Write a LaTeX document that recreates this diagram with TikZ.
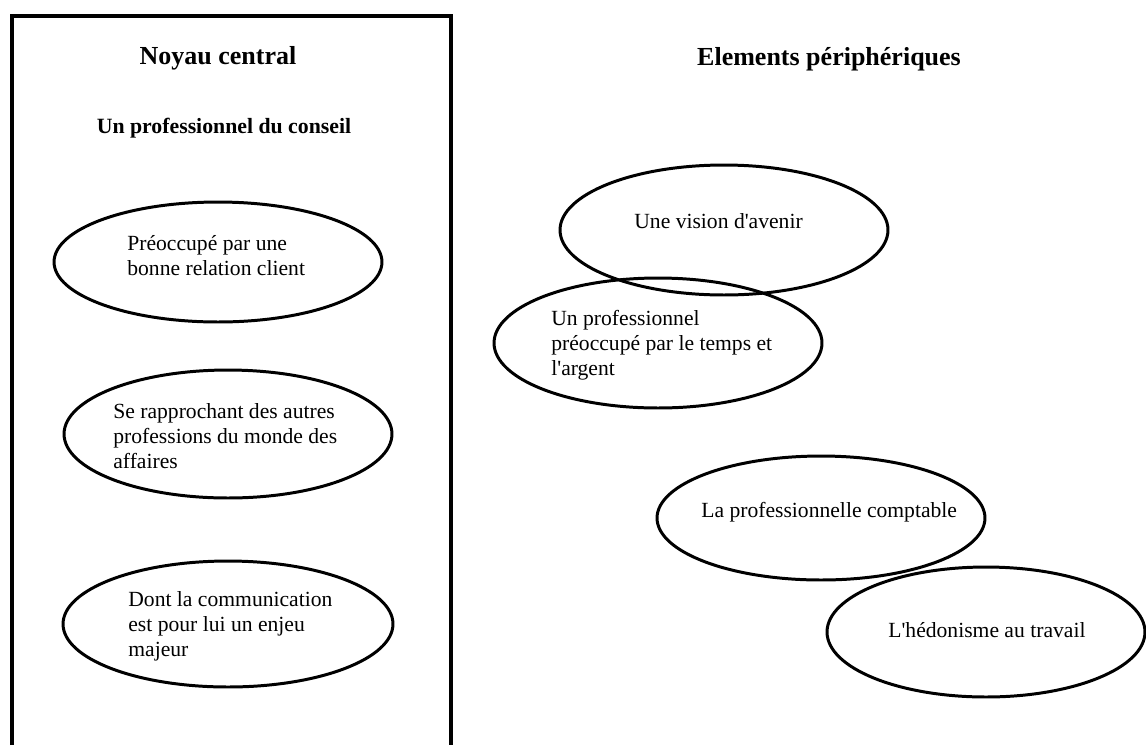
\documentclass[tikz,border=0pt]{standalone}
\usepackage{fontspec}
\setmainfont{Liberation Serif}
\usetikzlibrary{shapes.geometric}
\begin{document}
\begin{tikzpicture}[x=0.02cm,y=-0.02cm,
  bulle/.style={ellipse,draw,line width=1.7pt,inner sep=0pt,minimum width=6.56cm},
  txt/.style={anchor=west,align=left,inner sep=0pt,font=\fontsize{12.3}{14.2}\selectfont},
  titre/.style={inner sep=0pt,font=\fontsize{14.8}{17}\selectfont\bfseries}]
\useasboundingbox (0,0) rectangle (1146,745);
% cadre du noyau central (ouvert en bas)
\draw[line width=2.3pt] (12,745) coordinate (cadreA) -- (12,16) -- (451,16) -- (451,745) coordinate (cadreB);
\node[titre] (noyau) at (218,58) {Noyau central};
\node[inner sep=0pt,font=\fontsize{12.4}{14}\selectfont\bfseries] (conseil) at (224,128) {Un professionnel du conseil};
\node[titre] (periph) at (829,59) {Elements périphériques};
% bulles du noyau
\node[bulle,minimum height=2.4cm] (relation) at (218,262) {};
\node[txt] (relationTxt) at (127,256) {Préoccupé par une\\bonne relation client};
\node[bulle,minimum height=2.56cm] (affaires) at (228,434) {};
\node[txt] (affairesTxt) at (113,436) {Se rapprochant des autres\\professions du monde des\\affaires};
\node[bulle,minimum height=2.52cm,minimum width=6.6cm] (communication) at (228,624) {};
\node[txt] (communicationTxt) at (128,626) {Dont la communication\\est pour lui un enjeu\\majeur};
% bulles peripheriques
\node[bulle,minimum height=2.6cm] (avenir) at (724,230) {};
\node[txt] (avenirTxt) at (634,221) {Une vision d\textquotesingle avenir};
\node[bulle,minimum height=2.6cm] (argent) at (658,343) {};
\node[txt] (argentTxt) at (551,345) {Un professionnel\\préoccupé par le temps et\\l\textquotesingle argent};
\node[bulle,minimum height=2.48cm] (comptable) at (821,518) {};
\node[txt] (comptableTxt) at (701,512) {La professionnelle comptable};
\node[bulle,minimum height=2.6cm,minimum width=6.36cm] (travail) at (986,632) {};
\node[txt] (travailTxt) at (888,630) {L\textquotesingle hédonisme au travail};
\end{tikzpicture}
\end{document}
